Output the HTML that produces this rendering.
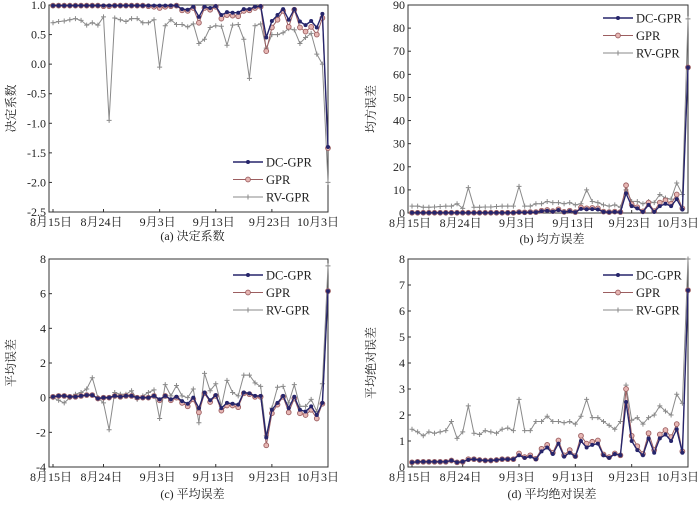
<!DOCTYPE html>
<html><head><meta charset="utf-8"><style>
body{margin:0;background:#fff;}
svg{display:block;font-family:"Liberation Serif","Noto Serif CJK SC",serif;}
</style></head><body>
<svg id="chart" width="700" height="505" viewBox="0 0 700 505"></svg>
<script>
const dateLabels=["8月15日","8月24日","9月3日","9月13日","9月23日","10月3日"];
const dateTickDays=[0,9,19,29,39,49];
const seriesNames=["DC-GPR","GPR","RV-GPR"];
const r2Ticks=[1.0,0.5,0,-0.5,-1.0,-1.5,-2.0,-2.5];
const mseTicks=[0,10,20,30,40,50,60,70,80,90];
const meTicks=[-4,-2,0,2,4,6,8];
const maeTicks=[0,1,2,3,4,5,6,7,8];

const r2DC=[0.99,0.99,0.99,0.99,0.99,0.99,0.99,0.99,0.99,0.99,0.99,0.99,0.99,0.99,0.99,0.99,0.99,0.99,0.99,0.99,0.99,0.99,0.99,0.93,0.92,0.97,0.8,0.97,0.95,0.98,0.83,0.88,0.87,0.87,0.93,0.93,0.97,0.98,0.45,0.73,0.83,0.93,0.75,0.93,0.72,0.66,0.73,0.62,0.85,-1.4];
const r2GPR=[0.99,0.99,0.99,0.99,0.99,0.99,0.99,0.99,0.99,0.98,0.98,0.99,0.99,0.99,0.99,0.99,0.99,0.98,0.97,0.95,0.97,0.98,0.99,0.91,0.9,0.95,0.7,0.95,0.92,0.97,0.77,0.83,0.82,0.81,0.9,0.91,0.95,0.97,0.22,0.62,0.75,0.9,0.63,0.92,0.62,0.55,0.63,0.5,0.78,-1.42];
const r2RV=[0.7,0.72,0.73,0.75,0.77,0.74,0.66,0.7,0.66,0.8,-0.95,0.78,0.75,0.72,0.77,0.77,0.7,0.7,0.75,-0.05,0.65,0.75,0.67,0.67,0.63,0.68,0.35,0.42,0.62,0.65,0.64,0.32,0.66,0.67,0.42,-0.24,0.65,0.68,0.27,0.5,0.5,0.53,0.6,0.58,0.35,0.45,0.52,0.17,0.0,-2.0];

const mseDC=[0.1,0.1,0.1,0.1,0.1,0.1,0.1,0.1,0.1,0.1,0.1,0.1,0.1,0.1,0.1,0.1,0.1,0.1,0.1,0.3,0.2,0.3,0.3,0.8,1.0,0.6,1.3,0.4,0.8,0.3,1.8,1.6,1.7,1.5,0.5,0.3,0.5,0.3,8.5,3.0,2.0,0.5,3.5,0.5,3.0,4.0,3.0,6.0,1.5,63];
const mseGPR=[0.1,0.1,0.1,0.1,0.1,0.1,0.1,0.1,0.1,0.1,0.1,0.1,0.1,0.1,0.1,0.1,0.1,0.1,0.1,0.4,0.3,0.4,0.4,1.0,1.3,0.8,1.6,0.5,1.0,0.4,2.4,2.0,2.2,2.0,0.6,0.4,0.6,0.4,12,3.8,2.5,0.7,4.5,0.8,4.5,5.5,4.0,8.0,2.0,63];
const mseRV=[3,3,2.5,2.5,2.6,2.8,3,3,4,2,11,2.5,2.5,2.6,2.6,2.8,3,3,3,11.5,3,3,4,4,5,4.5,4.5,4,4.5,3.5,4,10,5,4.5,3.5,3,3.5,2.5,10,5,5,4,5,4.5,8,6.5,6,13,8,84];

const meDC=[0.05,0.1,0.1,0.05,0.05,0.1,0.15,0.15,-0.05,0.0,0.0,0.1,0.05,0.1,0.1,0.0,0.0,0.0,0.1,-0.1,0.1,-0.1,0.05,-0.2,-0.35,0.0,-0.6,0.3,-0.15,0.15,-0.6,-0.3,-0.35,-0.4,0.3,0.25,0.1,0.1,-2.3,-0.7,-0.3,0.1,-0.6,0.05,-0.7,-0.8,-0.5,-1.0,-0.3,6.15];
const meGPR=[0.05,0.1,0.1,0.05,0.05,0.1,0.15,0.15,-0.05,0.0,0.0,0.1,0.05,0.1,0.1,0.0,0.0,0.0,0.1,-0.15,0.1,-0.15,0.0,-0.3,-0.5,-0.1,-0.85,0.25,-0.25,0.1,-0.75,-0.45,-0.45,-0.55,0.25,0.2,0.05,0.05,-2.75,-0.9,-0.4,0.05,-0.85,-0.05,-0.9,-1.0,-0.7,-1.2,-0.35,6.15];
const meRV=[0,-0.15,-0.3,0,0.2,0.3,0.5,1.15,0.0,-0.3,-1.85,0.3,0.2,0.2,0.4,-0.1,0.1,0.3,0.45,-1.2,0.75,0.1,0.7,0.1,0.0,0.5,-1.45,1.4,0.4,0.8,-0.5,1.0,0.3,0.1,1.3,1.3,0.85,0.65,-2.2,-0.6,0.6,0.65,-0.3,0.75,-0.5,-0.5,-0.1,-0.8,0.8,7.6];

const maeDC=[0.18,0.2,0.2,0.2,0.2,0.2,0.2,0.25,0.18,0.2,0.28,0.3,0.27,0.25,0.25,0.27,0.3,0.3,0.3,0.45,0.35,0.4,0.3,0.6,0.75,0.5,0.9,0.4,0.55,0.4,1.0,0.75,0.85,0.9,0.45,0.35,0.5,0.45,2.5,1.0,0.65,0.45,1.1,0.55,1.1,1.25,1.0,1.45,0.55,6.8];
const maeGPR=[0.18,0.2,0.2,0.2,0.2,0.2,0.2,0.25,0.18,0.2,0.3,0.3,0.27,0.25,0.25,0.27,0.3,0.3,0.3,0.52,0.38,0.45,0.32,0.7,0.85,0.55,1.02,0.45,0.65,0.42,1.2,0.9,0.97,1.02,0.48,0.38,0.52,0.45,3.0,1.2,0.8,0.5,1.3,0.65,1.25,1.42,1.15,1.65,0.6,6.8];
const maeRV=[1.45,1.35,1.2,1.35,1.3,1.35,1.4,1.75,1.1,1.35,2.35,1.3,1.25,1.4,1.35,1.3,1.45,1.5,1.4,2.6,1.4,1.4,1.75,1.75,1.95,1.75,1.75,1.7,1.75,1.65,1.95,2.6,1.9,1.9,1.75,1.6,1.45,1.75,3.15,1.8,1.9,1.65,1.9,2.0,2.35,2.15,2.0,2.8,2.45,8];

const NS="http://www.w3.org/2000/svg";
const svg=document.getElementById("chart");
function mk(tag,attrs,parent){const e=document.createElementNS(NS,tag);for(const k in attrs)e.setAttribute(k,attrs[k]);(parent||svg).appendChild(e);return e;}

const colors=["#26256b","#9c5e60","#8a8a8a"];
const panels=[
 {id:"a",x0:49,x1:328,y0:5,y1:212,min:-2.5,max:1.0,ticks:r2Ticks,dec:1,series:[r2DC,r2GPR,r2RV],title:"决定系数",cap:"(a) 决定系数",capY:240,tx:12,legX:233,legY:162},
 {id:"b",x0:408,x1:688,y0:5,y1:213,min:0,max:90,ticks:mseTicks,dec:0,series:[mseDC,mseGPR,mseRV],title:"均方误差",cap:"(b) 均方误差",capY:243,tx:372,legX:603,legY:18},
 {id:"c",x0:49,x1:328,y0:259,y1:467,min:-4,max:8,ticks:meTicks,dec:0,series:[meDC,meGPR,meRV],title:"平均误差",cap:"(c) 平均误差",capY:498,tx:12,legX:233,legY:275},
 {id:"d",x0:408,x1:688,y0:259,y1:467,min:0,max:8,ticks:maeTicks,dec:0,series:[maeDC,maeGPR,maeRV],title:"平均绝对误差",cap:"(d) 平均绝对误差",capY:498,tx:372,legX:603,legY:275}
];
const serNames=["dc-gpr","gpr","rv-gpr"];

function marker(g,kind,x,y){
  if(kind===0){const c=mk("circle",{cx:x,cy:y,r:2,fill:colors[0]},g);}
  else if(kind===1){const c=mk("circle",{cx:x,cy:y,r:2.4,fill:"#e7b7b4",stroke:colors[1],"stroke-width":0.9},g);}
  else{const p=mk("path",{d:`M${x-2.5},${y}H${x+2.5}M${x},${y-2.5}V${y+2.5}`,stroke:colors[2],"stroke-width":1},g);}
}

panels.forEach(p=>{
  const g=mk("g",{});
  
  
  const nDays=49;
  const xs=d=>p.x0+4+(p.x1-p.x0-4)*d/nDays;
  const ys=v=>p.y1-(v-p.min)/(p.max-p.min)*(p.y1-p.y0);
  const box=mk("rect",{x:p.x0,y:p.y0,width:p.x1-p.x0,height:p.y1-p.y0,fill:"none",stroke:"#333","stroke-width":1},g);
  
  
  p.ticks.forEach(t=>{
    const y=ys(t);
    const tk=mk("line",{x1:p.x0,x2:p.x0+3,y1:y,y2:y,stroke:"#333"},g);
    
    
    const lb=mk("text",{x:p.x0-3,y:y+4,"text-anchor":"end","font-size":12,fill:"#222"},g);
    lb.textContent=p.dec?t.toFixed(1):String(t);
    
    
  });
  dateTickDays.forEach((d,i)=>{
    const x=xs(d);
    const tk=mk("line",{x1:x,x2:x,y1:p.y1,y2:p.y1-3,stroke:"#333"},g);
    
    
    const last=i===dateTickDays.length-1;
    const lb=mk("text",{x:last?x+11:x-2,y:p.y1+14,"text-anchor":last?"end":"middle","font-size":12,fill:"#222"},g);
    lb.textContent=dateLabels[i];
    
    
  });
  const ty=(p.y0+p.y1)/2;
  const tt=mk("text",{x:p.tx,y:ty,"text-anchor":"middle","font-size":12,fill:"#222",transform:`rotate(-90 ${p.tx} ${ty})`,"dominant-baseline":"middle"},g);
  tt.textContent=p.title;
  
  
  const cp=mk("text",{x:(p.x0+p.x1)/2+4,y:p.capY,"text-anchor":"middle","font-size":12,fill:"#222"},g);
  cp.textContent=p.cap;
  
  
  [2,1,0].forEach(si=>{
    const data=p.series[si];
    const pts=data.map((v,d)=>xs(d).toFixed(1)+","+ys(v).toFixed(1)).join(" ");
    const sg=mk("g",{},g);
    
    
    mk("polyline",{points:pts,fill:"none",stroke:colors[si],"stroke-width":si===0?1.4:1},sg);
    data.forEach((v,d)=>marker(sg,si,xs(d),ys(v)));
  });
  seriesNames.forEach((n,si)=>{
    const y=p.legY+si*17.5;
    const lg=mk("g",{},g);
    
    
    mk("line",{x1:p.legX,x2:p.legX+30,y1:y,y2:y,stroke:colors[si],"stroke-width":si===0?1.4:1},lg);
    marker(lg,si,p.legX+15,y);
    const t=mk("text",{x:p.legX+33,y:y+4.5,"font-size":12.5,fill:"#222"},lg);
    t.textContent=n;
  });
});
</script>
</body></html>
